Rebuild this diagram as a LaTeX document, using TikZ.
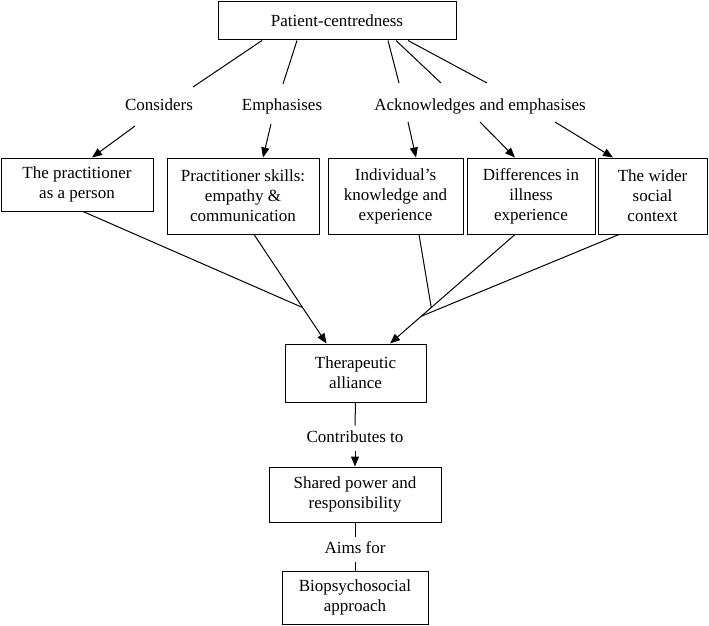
\documentclass[tikz,border=0pt]{standalone}
\usepackage{fontspec}
\setmainfont{Liberation Serif}
\usetikzlibrary{arrows.meta, calc}
\tikzstyle{concept} = [
    rectangle,
    draw = black,
    line width = 1pt,
    inner sep = 0pt,
    align = center,
    font = \fontsize{17}{20}\selectfont,
]
\tikzstyle{lien} = [
    font = \fontsize{17}{20}\selectfont,
    text height = 12pt,
    text depth = 4pt,
    inner xsep = 2pt,
    inner ysep = 4pt,
]

\begin{document}
\begin{tikzpicture} [x = 1pt, y = -1pt, line width = 1pt, >={Triangle[length = 10pt, width = 8pt]}]
    \useasboundingbox (0, 0) rectangle (709, 626);

    \node (Patient) [concept, minimum width = 238, minimum height = 38] at (337, 21) {Patient-centredness};

    \node (Considers) [lien] at (159, 106) {Considers};
    \node (Emphasises) [lien] at (282, 106) {Emphasises};
    \node (Acknowledges) [lien] at (480, 106) {Acknowledges and emphasises};

    \node (Practitioner) [concept, minimum width = 152, minimum height = 53] at (77, 184.5) {The practitioner\\as a person};
    \node (Skills) [concept, minimum width = 152, minimum height = 76] at (243, 196) {Practitioner skills:\\empathy \&\\communication};
    \node (Knowledge) [concept, minimum width = 135, minimum height = 76] at (395.5, 196) {Individual’s\\knowledge and\\experience};
    \node (Differences) [concept, minimum width = 128, minimum height = 76] at (531, 196) {Differences in\\illness\\experience};
    \node (Context) [concept, minimum width = 109, minimum height = 76] at (652.5, 196) {The wider\\social\\context};

    \node (Alliance) [concept, minimum width = 141, minimum height = 58] at (355.5, 373) {Therapeutic\\alliance};
    \node (Contributes) [lien] at (355, 438) {Contributes to};
    \node (Power) [concept, minimum width = 172, minimum height = 55] at (355, 494.5) {Shared power and\\responsibility};
    \node (Aims) [lien] at (355, 549) {Aims for};
    \node (Approach) [concept, minimum width = 146, minimum height = 53] at (355, 597.5) {Biopsychosocial\\approach};

    \draw[-] ($(Patient.south) + (-75, 0)$) -- ($(Considers) + (34, -19)$);
    \draw[-] ($(Patient.south) + (-40, 0)$) -- ($(Emphasises) + (1, -22)$);
    \draw[-] ($(Patient.south) + (51, 0)$) -- ($(Acknowledges) + (-81, -23)$);
    \draw[-] ($(Patient.south) + (59, 0)$) -- ($(Acknowledges) + (-39, -23)$);
    \draw[-] ($(Patient.south) + (71, 0)$) -- ($(Acknowledges) + (7, -23)$);

    \draw[->] ($(Considers) + (-24, 20)$) -- ($(Practitioner.north) + (15, 0)$);
    \draw[->] ($(Emphasises) + (-11, 18)$) -- ($(Skills.north) + (20, 0)$);
    \draw[->] ($(Acknowledges) + (-72, 16)$) -- ($(Knowledge.north) + (20.5, 0)$);
    \draw[->] ($(Acknowledges) + (0, 16)$) -- ($(Differences.north) + (-16, 0)$);
    \draw[->] ($(Acknowledges) + (75, 16)$) -- ($(Context.north) + (-39.5, 0)$);

    \coordinate (SkillsOut) at ($(Skills.south) + (11, 0)$);
    \coordinate (AllianceLeft) at ($(Alliance.north) + (-29, 0)$);
    \coordinate (JoinLeft) at ($(SkillsOut)!0.67!(AllianceLeft)$);
    \coordinate (DifferencesOut) at ($(Differences.south) + (-16, 0)$);
    \coordinate (AllianceRight) at ($(Alliance.north) + (34.5, 0)$);
    \coordinate (JoinRight) at ($(DifferencesOut)!0.75!(AllianceRight)$);
    \coordinate (JoinKnowledge) at ($(DifferencesOut)!0.67!(AllianceRight)$);

    \draw[->] (SkillsOut) -- (AllianceLeft);
    \draw[-] ($(Practitioner.south) + (6, 0)$) -- (JoinLeft);
    \draw[->] (DifferencesOut) -- (AllianceRight);
    \draw[-] ($(Knowledge.south) + (23.5, 0)$) -- (JoinKnowledge);
    \draw[-] ($(Context.south) + (-33.5, 0)$) -- (JoinRight);

    \draw[-] (Alliance.south) -- (Contributes.north);
    \draw[->] (Contributes.south) -- (Power.north);
    \draw[-] (Power.south) -- (Aims.north);
    \draw[-] (Aims.south) -- (Approach.north);
\end{tikzpicture}
\end{document}
